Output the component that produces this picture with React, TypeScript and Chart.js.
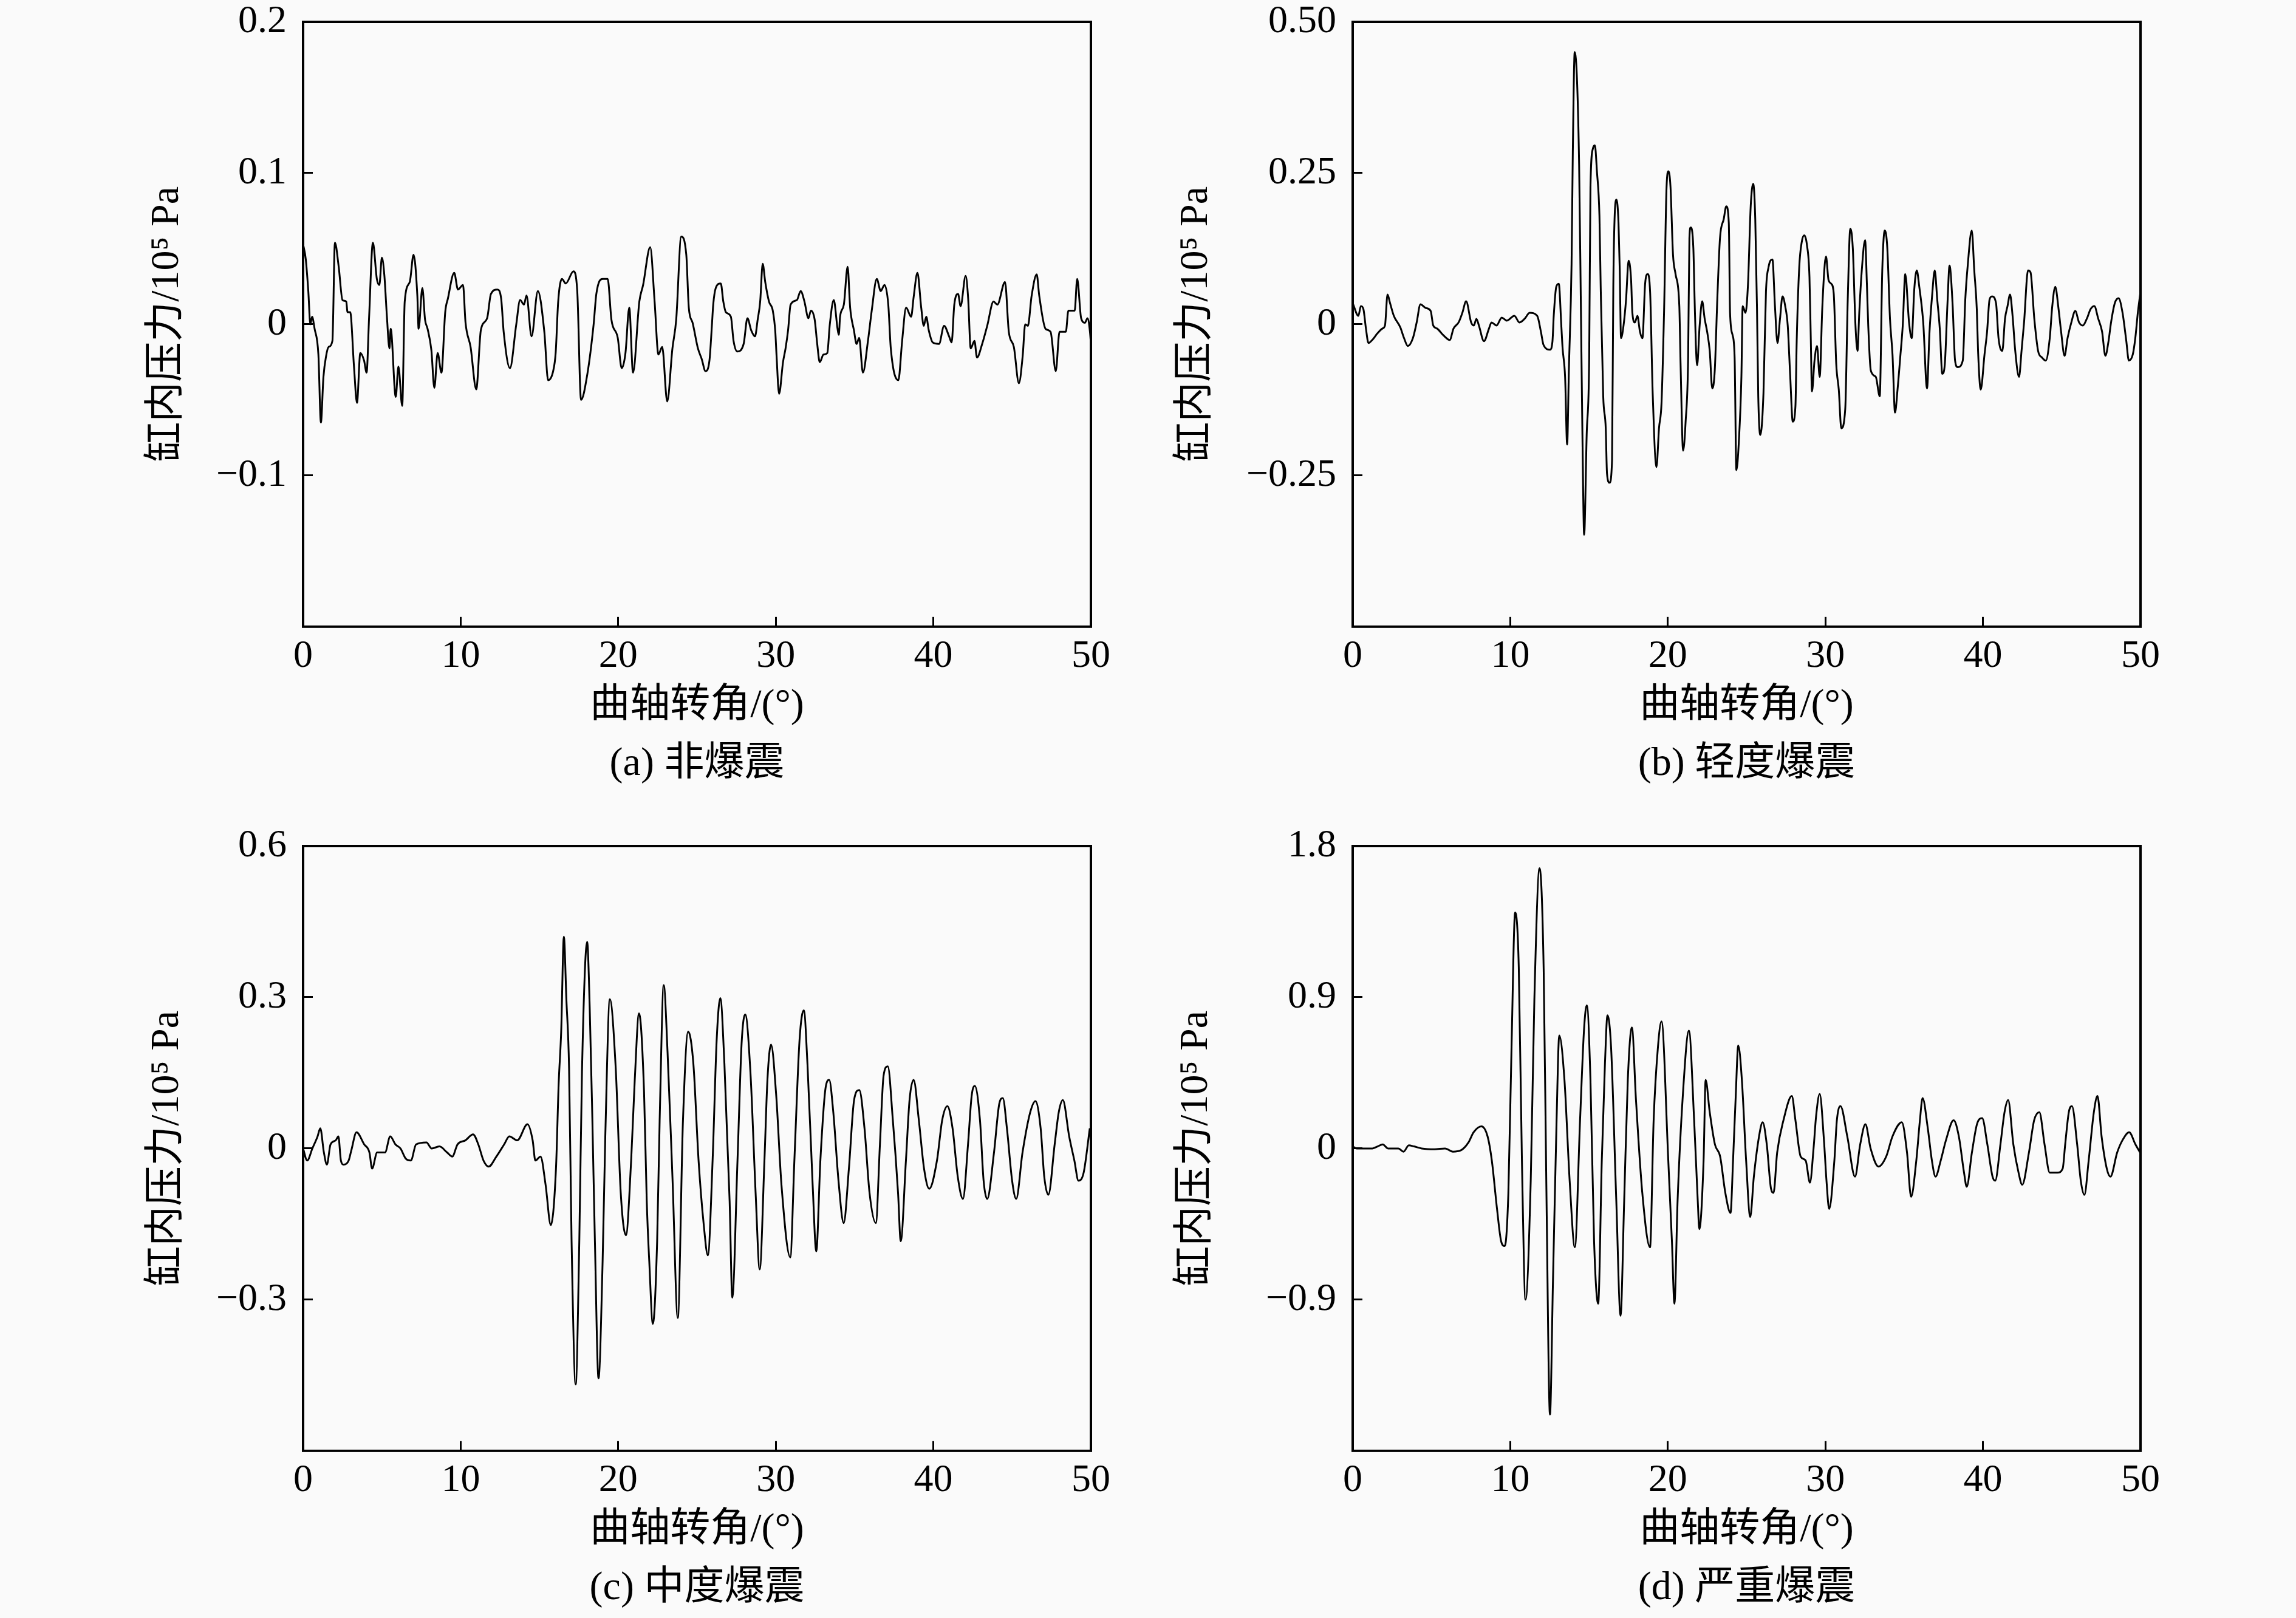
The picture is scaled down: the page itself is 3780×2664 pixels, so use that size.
import React, { useEffect, useRef } from 'react';
import { Chart, registerables } from 'chart.js';

Chart.register(...registerables);

const SERIF = '"Liberation Serif", "DejaVu Serif", "Noto Sans CJK SC", serif';

const xTitle = '曲轴转角/(°)';
const yTitle = '缸内压力/10⁵ Pa';
const xTicks = [0, 10, 20, 30, 40, 50];

// (a) 非爆震
const angleA = [
  0, 0.17, 0.33, 0.46, 0.57, 0.73, 0.97, 1.13, 1.29, 1.46,
  1.62, 1.86, 2.02, 2.26, 2.5, 2.74, 2.82, 2.99, 3.23, 3.42,
  3.63, 3.87, 4.03, 4.19, 4.43, 4.68, 4.84, 5.0, 5.16, 5.32,
  5.48, 5.56, 5.88, 6.05, 6.29, 6.45, 6.77, 7.01, 7.25, 7.33,
  7.57, 7.74, 7.9, 8.14, 8.33, 8.54, 8.78, 9.02, 9.19, 9.59,
  9.83, 10.15, 10.31, 10.63, 10.99, 11.28, 11.68, 11.92, 12.33, 12.57,
  12.73, 13.13, 13.53, 13.77, 14.02, 14.18, 14.5, 14.9, 15.31, 15.55,
  15.87, 16.03, 16.19, 16.43, 16.67, 17.16, 17.4, 17.64, 18.04, 18.44,
  18.61, 19.01, 19.33, 19.57, 19.97, 20.22, 20.46, 20.7, 20.94, 21.34,
  21.58, 22.03, 22.31, 22.55, 22.79, 23.11, 23.44, 23.68, 24.0, 24.32,
  24.48, 24.72, 25.06, 25.3, 25.54, 25.79, 25.95, 26.03, 26.19, 26.51,
  26.67, 26.83, 27.15, 27.32, 27.56, 27.96, 28.2, 28.44, 28.68, 28.85,
  29.01, 29.17, 29.33, 29.57, 29.81, 29.97, 30.05, 30.21, 30.46, 30.62,
  30.78, 30.94, 31.34, 31.58, 31.82, 32.07, 32.23, 32.47, 32.63, 32.79,
  33.03, 33.27, 33.43, 33.68, 33.92, 34.0, 34.08, 34.32, 34.56, 34.72,
  34.96, 35.13, 35.29, 35.53, 35.85, 36.09, 36.41, 36.66, 36.9, 37.14,
  37.3, 37.78, 38.02, 38.27, 38.59, 38.75, 38.99, 39.23, 39.39, 39.55,
  39.71, 39.96, 40.36, 40.68, 41.0, 41.16, 41.33, 41.57, 41.73, 42.05,
  42.21, 42.37, 42.61, 42.77, 43.1, 43.42, 43.82, 44.06, 44.55, 44.79,
  45.11, 45.43, 45.67, 45.83, 46.0, 46.24, 46.56, 46.72, 47.12, 47.44,
  47.77, 48.01, 48.41, 48.57, 48.97, 49.13, 49.38, 49.62, 49.78, 49.94,
  50.0,
];
const pressureA = [
  0.053, 0.043, 0.022, 0.0, 0.005, -0.003, -0.02, -0.065, -0.035, -0.021,
  -0.015, -0.011, 0.054, 0.038, 0.016, 0.015, 0.008, 0.008, -0.028, -0.052,
  -0.019, -0.024, -0.032, 0.005, 0.054, 0.03, 0.026, 0.044, 0.032, 0.005,
  -0.016, -0.003, -0.048, -0.028, -0.054, 0.015, 0.028, 0.046, 0.019, -0.003,
  0.024, 0.003, -0.003, -0.017, -0.042, -0.019, -0.032, 0.008, 0.017, 0.034,
  0.023, 0.026, 0.001, -0.015, -0.043, -0.004, 0.004, 0.02, 0.023, 0.017,
  -0.005, -0.029, 0.0, 0.016, 0.013, 0.019, -0.008, 0.022, -0.005, -0.037,
  -0.031, -0.019, 0.015, 0.03, 0.027, 0.035, 0.022, -0.05, -0.033, 0.0,
  0.02, 0.03, 0.03, 0.003, -0.009, -0.029, -0.019, 0.011, -0.032, 0.015,
  0.026, 0.051, 0.015, -0.02, -0.015, -0.051, -0.016, 0.003, 0.058, 0.046,
  0.011, 0.001, -0.016, -0.023, -0.031, -0.024, 0.0, 0.013, 0.024, 0.027,
  0.015, 0.008, 0.005, -0.011, -0.018, -0.013, 0.004, -0.004, -0.008, 0.003,
  0.015, 0.04, 0.028, 0.015, 0.009, -0.005, -0.021, -0.046, -0.025, -0.016,
  -0.004, 0.013, 0.016, 0.022, 0.015, 0.004, 0.009, 0.003, -0.013, -0.025,
  -0.02, -0.019, 0.0, 0.016, -0.003, -0.007, 0.005, 0.013, 0.038, 0.011,
  -0.004, -0.013, -0.009, -0.032, -0.011, 0.009, 0.03, 0.022, 0.026, 0.013,
  -0.016, -0.037, -0.011, 0.011, 0.005, 0.018, 0.034, 0.011, -0.001, 0.005,
  -0.004, -0.012, -0.013, -0.001, -0.008, -0.012, 0.013, 0.02, 0.012, 0.032,
  0.017, -0.016, -0.011, -0.022, -0.013, -0.001, 0.015, 0.013, 0.028, -0.005,
  -0.015, -0.039, -0.021, 0.0, -0.001, 0.019, 0.033, 0.019, -0.003, -0.005,
  -0.031, -0.005, -0.005, 0.009, 0.009, 0.03, 0.004, 0.001, 0.004, -0.005,
  -0.013,
];

// (b) 轻度爆震
const angleB = [
  0, 0.36, 0.52, 0.68, 0.84, 1.0, 1.24, 1.57, 1.89, 2.05,
  2.21, 2.37, 2.61, 3.02, 3.26, 3.5, 3.82, 4.06, 4.3, 4.63,
  4.95, 5.11, 5.35, 5.75, 6.16, 6.4, 6.72, 6.96, 7.2, 7.52,
  7.69, 7.85, 8.01, 8.33, 8.65, 8.81, 9.13, 9.46, 9.78, 10.26,
  10.58, 10.91, 11.23, 11.71, 11.95, 12.11, 12.52, 12.68, 12.76, 12.92,
  13.08, 13.24, 13.32, 13.48, 13.61, 13.72, 13.89, 13.97, 14.09, 14.24,
  14.37, 14.48, 14.58, 14.69, 14.85, 15.01, 15.09, 15.25, 15.37, 15.5,
  15.66, 15.74, 15.9, 16.06, 16.14, 16.3, 16.46, 16.54, 16.62, 16.74,
  16.87, 16.95, 17.03, 17.19, 17.35, 17.51, 17.67, 17.75, 17.91, 18.07,
  18.23, 18.39, 18.56, 18.72, 18.88, 19.04, 19.28, 19.44, 19.6, 19.76,
  19.92, 20.04, 20.17, 20.33, 20.49, 20.73, 20.81, 20.97, 21.13, 21.29,
  21.37, 21.45, 21.62, 21.7, 21.78, 21.86, 22.02, 22.18, 22.34, 22.5,
  22.66, 22.82, 22.98, 23.14, 23.31, 23.55, 23.71, 23.87, 23.95, 24.11,
  24.24, 24.35, 24.51, 24.67, 24.75, 24.93, 25.09, 25.26, 25.42, 25.55,
  25.66, 25.74, 25.87, 26.07, 26.23, 26.39, 26.64, 26.8, 26.96, 27.12,
  27.28, 27.45, 27.61, 27.77, 27.93, 28.1, 28.18, 28.34, 28.5, 28.66,
  28.83, 28.99, 29.07, 29.15, 29.31, 29.47, 29.64, 29.8, 29.96, 30.04,
  30.2, 30.37, 30.53, 30.69, 30.85, 31.01, 31.26, 31.42, 31.58, 31.74,
  31.91, 32.04, 32.15, 32.31, 32.52, 32.64, 32.72, 32.88, 33.2, 33.45,
  33.61, 33.77, 33.93, 34.1, 34.26, 34.42, 34.58, 34.75, 34.91, 35.07,
  35.31, 35.48, 35.64, 35.8, 35.96, 36.21, 36.45, 36.61, 36.77, 36.94,
  37.1, 37.26, 37.42, 37.58, 37.75, 37.88, 38.07, 38.23, 38.4, 38.72,
  38.88, 39.04, 39.29, 39.45, 39.61, 39.69, 39.86, 40.1, 40.26, 40.42,
  40.58, 40.83, 40.99, 41.23, 41.4, 41.56, 41.72, 41.88, 42.05, 42.29,
  42.45, 42.61, 42.86, 43.02, 43.26, 43.5, 43.75, 43.99, 44.24, 44.4,
  44.59, 44.8, 44.96, 45.18, 45.37, 45.61, 45.86, 46.1, 46.34, 46.59,
  46.83, 47.07, 47.32, 47.56, 47.77, 47.97, 48.13, 48.37, 48.61, 48.86,
  49.1, 49.26, 49.51, 49.67, 49.83, 50.0,
];
const pressureB = [
  0.035, 0.014, 0.03, 0.025, -0.007, -0.031, -0.026, -0.015, -0.007, -0.002,
  0.049, 0.035, 0.014, -0.005, -0.023, -0.036, -0.023, 0.003, 0.033, 0.027,
  0.022, -0.002, -0.007, -0.018, -0.026, -0.007, 0.003, 0.019, 0.038, 0.003,
  -0.002, 0.009, -0.002, -0.028, -0.007, 0.003, -0.002, 0.011, 0.006, 0.014,
  0.003, 0.009, 0.019, 0.014, -0.013, -0.034, -0.042, -0.028, 0.014, 0.062,
  0.067, -0.002, -0.039, -0.087, -0.199, -0.076, 0.099, 0.285, 0.45, 0.402,
  0.264, 0.035, -0.183, -0.348, -0.183, -0.055, 0.227, 0.291, 0.296, 0.253,
  0.179, 0.062, -0.119, -0.172, -0.247, -0.262, -0.225, 0.062, 0.174, 0.206,
  0.168, 0.089, -0.023, -0.002, 0.041, 0.105, 0.073, 0.019, 0.003, 0.014,
  -0.012, -0.023, 0.067, 0.083, 0.051, -0.114, -0.236, -0.172, -0.13, 0.019,
  0.227, 0.253, 0.227, 0.115, 0.083, 0.03, -0.066, -0.209, -0.161, -0.055,
  0.142, 0.16, 0.126, 0.041, -0.034, -0.068, -0.002, 0.038, 0.009, -0.013,
  -0.044, -0.106, -0.076, 0.041, 0.142, 0.174, 0.195, 0.168, 0.019, -0.018,
  -0.055, -0.241, -0.193, -0.087, 0.03, 0.019, 0.067, 0.195, 0.232, 0.174,
  0.025, -0.119, -0.183, -0.114, 0.054, 0.094, 0.107, 0.03, -0.031, 0.009,
  0.046, 0.03, -0.002, -0.087, -0.161, -0.135, -0.028, 0.094, 0.136, 0.147,
  0.131, 0.078, -0.018, -0.111, -0.06, -0.036, -0.087, 0.025, 0.099, 0.112,
  0.073, 0.067, 0.051, -0.066, -0.108, -0.172, -0.14, 0.041, 0.158, 0.126,
  -0.002, -0.044, 0.019, 0.089, 0.139, 0.062, -0.002, -0.076, -0.087, -0.119,
  0.089, 0.155, 0.126, 0.009, -0.05, -0.146, -0.108, -0.055, -0.002, 0.083,
  0.003, -0.023, 0.057, 0.089, 0.062, 0.003, -0.106, -0.012, 0.046, 0.089,
  0.041, -0.007, -0.082, -0.066, 0.035, 0.097, 0.035, -0.06, -0.071, -0.06,
  0.041, 0.099, 0.155, 0.089, 0.025, -0.044, -0.108, -0.05, -0.013, 0.041,
  0.046, 0.035, -0.023, -0.044, 0.009, 0.03, 0.049, 0.014, -0.044, -0.087,
  -0.044, 0.003, 0.089, 0.086, 0.009, -0.044, -0.055, -0.06, -0.023, 0.03,
  0.062, 0.025, -0.012, -0.052, -0.023, 0.003, 0.022, 0.003, -0.002, 0.009,
  0.025, 0.03, 0.009, -0.012, -0.052, -0.028, 0.003, 0.035, 0.043, 0.019,
  -0.028, -0.06, -0.05, -0.023, 0.019, 0.054,
];

// (c) 中度爆震
const angleC = [
  0, 0.26, 0.59, 0.92, 1.09, 1.32, 1.51, 1.74, 2.07, 2.24,
  2.4, 2.57, 2.89, 3.06, 3.39, 3.88, 4.21, 4.38, 4.7, 5.2,
  5.53, 5.86, 6.18, 6.51, 6.84, 7.17, 7.83, 8.16, 8.65, 9.14,
  9.47, 9.8, 10.3, 10.79, 11.12, 11.45, 11.78, 12.27, 12.76, 13.09,
  13.59, 14.24, 14.57, 14.74, 15.07, 15.39, 15.72, 16.05, 16.22, 16.38,
  16.55, 16.71, 16.88, 17.04, 17.3, 17.53, 17.7, 18.03, 18.19, 18.36,
  18.52, 18.75, 19.01, 19.18, 19.47, 19.84, 20.16, 20.49, 20.82, 21.05,
  21.32, 21.64, 21.81, 21.97, 22.2, 22.47, 22.63, 22.89, 23.13, 23.45,
  23.78, 24.11, 24.44, 24.77, 25.1, 25.43, 25.69, 25.99, 26.25, 26.48,
  26.74, 27.07, 27.24, 27.57, 27.83, 28.06, 28.39, 28.72, 28.98, 29.28,
  29.47, 29.7, 30.03, 30.36, 30.92, 31.18, 31.51, 31.78, 32.01, 32.34,
  32.57, 32.83, 33.16, 33.39, 33.65, 33.98, 34.31, 34.64, 34.97, 35.3,
  35.63, 35.95, 36.35, 36.61, 36.84, 37.11, 37.43, 37.76, 37.93, 38.26,
  38.49, 38.75, 39.08, 39.41, 39.74, 40.23, 40.56, 40.89, 41.22, 41.55,
  41.88, 42.2, 42.43, 42.63, 42.96, 43.19, 43.42, 43.85, 44.18, 44.41,
  44.67, 45.0, 45.26, 45.66, 46.15, 46.48, 46.81, 47.04, 47.3, 47.7,
  47.96, 48.22, 48.62, 48.95, 49.21, 49.54, 49.93,
];
const pressureC = [
  0, -0.024, 0, 0.024, 0.04, -0.008, -0.032, 0.008, 0.016, 0.024,
  -0.024, -0.032, -0.024, -0.004, 0.032, 0.008, -0.008, -0.04, -0.008, -0.008,
  0.024, 0.008, 0, -0.02, -0.024, 0.008, 0.012, 0, 0.004, -0.008,
  -0.016, 0.008, 0.016, 0.028, 0.008, -0.024, -0.036, -0.016, 0.008, 0.024,
  0.016, 0.048, 0.016, -0.024, -0.016, -0.072, -0.152, -0.04, 0.128, 0.232,
  0.42, 0.296, 0.16, -0.184, -0.468, -0.184, 0.152, 0.41, 0.28, 0.056,
  -0.184, -0.456, -0.224, 0.024, 0.296, 0.16, -0.088, -0.172, -0.024, 0.136,
  0.268, 0.112, -0.104, -0.224, -0.348, -0.184, 0.056, 0.324, 0.192, -0.064,
  -0.336, 0.056, 0.232, 0.168, -0.024, -0.152, -0.212, -0.024, 0.216, 0.298,
  0.168, -0.104, -0.296, -0.024, 0.208, 0.266, 0.152, -0.088, -0.24, -0.024,
  0.136, 0.206, 0.104, -0.072, -0.216, -0.024, 0.216, 0.274, 0.168, -0.072,
  -0.204, -0.024, 0.12, 0.136, 0.072, -0.064, -0.148, -0.04, 0.096, 0.116,
  0.04, -0.088, -0.148, 0.008, 0.144, 0.163, 0.056, -0.088, -0.184, -0.024,
  0.096, 0.136, 0.056, -0.04, -0.08, -0.024, 0.056, 0.084, 0.04, -0.056,
  -0.1, 0.008, 0.104, 0.124, 0.056, -0.064, -0.1, -0.008, 0.088, 0.1,
  0.04, -0.064, -0.1, -0.008, 0.072, 0.094, 0.04, -0.056, -0.092, 0.008,
  0.072, 0.096, 0.024, -0.024, -0.064, -0.048, 0.04,
];

// (d) 严重爆震
const angleD = [
  0, 0.26, 0.59, 1.25, 1.58, 1.91, 2.24, 2.9, 3.23, 3.56,
  3.89, 4.38, 5.2, 5.86, 6.36, 6.85, 7.35, 7.67, 8.17, 8.56,
  8.83, 9.16, 9.42, 9.65, 9.88, 10.08, 10.31, 10.54, 10.74, 10.97,
  11.3, 11.53, 11.86, 12.12, 12.29, 12.52, 12.71, 12.94, 13.11, 13.44,
  13.77, 14.1, 14.43, 14.69, 14.86, 15.09, 15.32, 15.58, 15.81, 16.01,
  16.17, 16.4, 16.73, 17.0, 17.23, 17.46, 17.72, 17.98, 18.38, 18.87,
  19.1, 19.37, 19.6, 20.03, 20.26, 20.42, 20.62, 20.95, 21.34, 21.67,
  21.9, 22.0, 22.27, 22.4, 22.66, 22.99, 23.32, 23.65, 23.98, 24.14,
  24.31, 24.47, 24.7, 24.97, 25.23, 25.46, 25.79, 26.02, 26.28, 26.55,
  26.71, 26.94, 27.34, 27.87, 28.1, 28.43, 28.75, 29.02, 29.25, 29.41,
  29.64, 29.91, 30.07, 30.24, 30.57, 30.73, 30.96, 31.39, 31.88, 32.21,
  32.54, 32.87, 33.37, 33.86, 34.26, 34.85, 35.18, 35.44, 35.77, 36.0,
  36.17, 36.5, 36.76, 36.99, 37.32, 37.65, 38.14, 38.47, 38.8, 38.97,
  39.3, 39.62, 39.95, 40.28, 40.61, 40.78, 41.11, 41.37, 41.6, 41.93,
  42.26, 42.49, 42.92, 43.25, 43.58, 43.91, 44.24, 44.73, 45.06, 45.22,
  45.45, 45.65, 45.98, 46.21, 46.44, 46.71, 47.04, 47.27, 47.53, 47.86,
  48.09, 48.52, 48.85, 49.28, 49.68, 50.0,
];
const pressureD = [
  0.012, 0, 0, 0, 0.012, 0.024, 0, 0, -0.019, 0.019,
  0.012, 0, -0.005, 0, -0.019, -0.012, 0.036, 0.096, 0.132, 0.072,
  -0.072, -0.36, -0.552, -0.581, -0.264, 0.6, 1.404, 1.08, -0.072, -0.9,
  -0.192, 0.888, 1.668, 1.068, -0.216, -1.584, -0.792, 0.168, 0.672, 0.408,
  -0.192, -0.588, 0.168, 0.72, 0.852, 0.408, -0.552, -0.924, -0.072, 0.504,
  0.792, 0.6, -0.312, -0.996, -0.312, 0.408, 0.72, 0.288, -0.264, -0.588,
  0.168, 0.6, 0.756, -0.072, -0.552, -0.924, -0.312, 0.312, 0.701, 0.168,
  -0.312, -0.48, -0.072, 0.408, 0.216, 0.024, -0.048, -0.264, -0.384, -0.072,
  0.312, 0.612, 0.408, -0.072, -0.408, -0.168, 0.072, 0.156, 0.024, -0.24,
  -0.264, -0.024, 0.168, 0.312, 0.168, -0.048, -0.072, -0.204, 0, 0.192,
  0.324, 0.048, -0.192, -0.36, -0.072, 0.168, 0.252, 0.072, -0.168, 0.024,
  0.144, 0, -0.108, -0.048, 0.072, 0.156, -0.024, -0.288, -0.072, 0.168,
  0.3, 0.12, -0.072, -0.168, -0.072, 0.048, 0.168, 0.072, -0.144, -0.228,
  -0.024, 0.144, 0.18, 0.024, -0.168, -0.192, 0.024, 0.216, 0.288, 0.024,
  -0.144, -0.216, -0.024, 0.168, 0.216, 0.024, -0.144, -0.144, -0.12, 0.024,
  0.216, 0.252, 0.024, -0.192, -0.276, -0.072, 0.216, 0.312, 0.072, -0.12,
  -0.168, -0.024, 0.048, 0.096, 0.024, -0.029,
];

// y ticks (bottom one carries no label in the original)
const yTicksA = [-0.2, -0.1, 0, 0.1, 0.2];
const yLabelsA = ['', '−0.1', '0', '0.1', '0.2'];
const yTicksB = [-0.5, -0.25, 0, 0.25, 0.5];
const yLabelsB = ['', '−0.25', '0', '0.25', '0.50'];
const yTicksC = [-0.6, -0.3, 0, 0.3, 0.6];
const yLabelsC = ['', '−0.3', '0', '0.3', '0.6'];
const yTicksD = [-1.8, -0.9, 0, 0.9, 1.8];
const yLabelsD = ['', '−0.9', '0', '0.9', '1.8'];

// plot-area box size and space around it inside each canvas
const PLOT_W = 1297;
const PLOT_H = 995;
const PAD_L = 330;
const PAD_R = 105;
const PAD_T = 36;
const CANVAS_H = 1320;

const framePlugin = {
  id: 'frame',
  afterDraw(chart: any) {
    const { ctx, chartArea } = chart;
    ctx.save();
    ctx.strokeStyle = '#000';
    ctx.lineWidth = 4;
    ctx.strokeRect(chartArea.left, chartArea.top, chartArea.right - chartArea.left, chartArea.bottom - chartArea.top);
    ctx.restore();
  },
};

interface KnockPanelProps {
  angles: number[];
  pressures: number[];
  yTicks: number[];
  yLabels: string[];
  caption: string;
  plotLeft: number;
  plotTop: number;
  yTitleX: number;
}

const KnockPanel: React.FC<KnockPanelProps> = ({
  angles,
  pressures,
  yTicks,
  yLabels,
  caption,
  plotLeft,
  plotTop,
  yTitleX,
}) => {
  const canvasRef = useRef<HTMLCanvasElement | null>(null);
  const chartRef = useRef<Chart | null>(null);

  const canvasLeft = plotLeft - PAD_L;
  const canvasTop = plotTop - PAD_T;
  const canvasW = PAD_L + PLOT_W + PAD_R;

  useEffect(() => {
    const ctx = canvasRef.current?.getContext('2d');
    if (!ctx) return;

    const tickFont = { family: SERIF, size: 64, lineHeight: 1 };
    const labelFont = { family: SERIF, size: 66, lineHeight: 1.2, weight: 'normal' as const };
    const grid = { drawOnChartArea: false, tickLength: -16, lineWidth: 3, color: '#000' };

    chartRef.current = new Chart(ctx, {
      type: 'line',
      data: {
        datasets: [
          {
            data: angles.map((a, i) => ({ x: a, y: pressures[i] })),
            borderColor: '#000',
            borderWidth: 3,
            pointRadius: 0,
            cubicInterpolationMode: 'monotone',
            fill: false,
          },
        ],
      },
      options: {
        responsive: false,
        animation: false,
        devicePixelRatio: 1,
        layout: { padding: { top: PAD_T, right: PAD_R, left: 0, bottom: 0 } },
        plugins: {
          legend: { display: false },
          tooltip: { enabled: false },
          title: {
            display: true,
            position: 'bottom',
            fullSize: false,
            text: caption,
            color: '#000',
            font: labelFont,
            padding: { top: 10, bottom: 22 },
          },
        },
        scales: {
          x: {
            type: 'linear',
            min: 0,
            max: 50,
            afterBuildTicks: (axis: any) => {
              axis.ticks = xTicks.map((v) => ({ value: v }));
            },
            afterFit: (axis: any) => {
              axis.height = 177;
              axis.paddingLeft = 0;
              axis.paddingRight = 0;
            },
            grid,
            border: { display: false },
            ticks: { color: '#000', padding: 33, font: tickFont, maxRotation: 0, autoSkip: false },
            title: {
              display: true,
              text: xTitle,
              color: '#000',
              font: labelFont,
              padding: { top: 0, bottom: 7 },
            },
          },
          y: {
            type: 'linear',
            min: yTicks[0],
            max: yTicks[yTicks.length - 1],
            afterBuildTicks: (axis: any) => {
              axis.ticks = yTicks.map((v) => ({ value: v }));
            },
            afterFit: (axis: any) => {
              axis.width = PAD_L;
              axis.paddingTop = 0;
              axis.paddingBottom = 0;
            },
            grid,
            border: { display: false },
            ticks: {
              color: '#000',
              padding: 43,
              font: tickFont,
              autoSkip: false,
              callback: (_v: any, i: number) => yLabels[i],
            },
            title: {
              display: true,
              text: yTitle,
              color: '#000',
              font: labelFont,
              padding: { top: yTitleX - canvasLeft - 40, bottom: 0 },
            },
          },
        },
      },
      plugins: [framePlugin],
    });

    return () => {
      if (chartRef.current) {
        chartRef.current.destroy();
        chartRef.current = null;
      }
    };
  }, [angles, pressures, yTicks, yLabels, caption, canvasLeft, yTitleX]);

  return (
    <canvas
      ref={canvasRef}
      width={canvasW}
      height={CANVAS_H}
      style={{ position: 'absolute', left: canvasLeft, top: canvasTop, width: canvasW, height: CANVAS_H }}
    />
  );
};

const App: React.FC = () => (
  <div
    style={{
      position: 'absolute',
      left: 0,
      top: 0,
      width: 3780,
      height: 2664,
      overflow: 'hidden',
      background: '#fafafa',
    }}
  >
    <KnockPanel angles={angleA} pressures={pressureA} yTicks={yTicksA} yLabels={yLabelsA}
      caption="(a) 非爆震" plotLeft={499} plotTop={36} yTitleX={276} />
    <KnockPanel angles={angleB} pressures={pressureB} yTicks={yTicksB} yLabels={yLabelsB}
      caption="(b) 轻度爆震" plotLeft={2227} plotTop={36} yTitleX={1970} />
    <KnockPanel angles={angleC} pressures={pressureC} yTicks={yTicksC} yLabels={yLabelsC}
      caption="(c) 中度爆震" plotLeft={499} plotTop={1393} yTitleX={276} />
    <KnockPanel angles={angleD} pressures={pressureD} yTicks={yTicksD} yLabels={yLabelsD}
      caption="(d) 严重爆震" plotLeft={2227} plotTop={1393} yTitleX={1970} />
  </div>
);

export default App;
